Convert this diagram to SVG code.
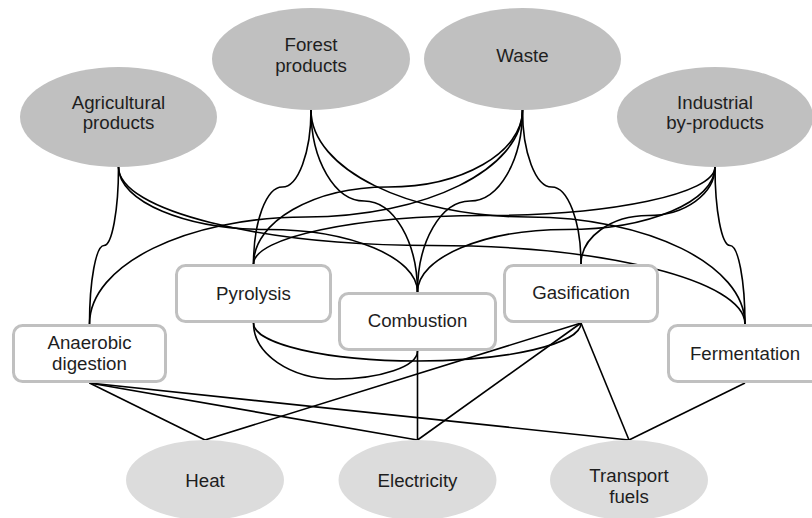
<svg xmlns="http://www.w3.org/2000/svg" width="812" height="518" viewBox="0 0 812 518">
<style>
.src{fill:#c0c0c0}
.out{fill:#dcdcdc}
.box{fill:#ffffff;stroke:#c0c0c0;stroke-width:3}
.t{font-family:"Liberation Sans",Arial,sans-serif;font-size:18.7px;fill:#1e1e1e;text-anchor:middle}
#connectors path,#connectors line{fill:none;stroke:#000;stroke-width:1.6}
</style>
<rect width="812" height="518" fill="#fff"/>
<g id="connectors">
<path d="M118.5,167 C118.5,210.3 112,245.5 104,245.5 C96,245.5 89.5,280.7 89.5,324"/>
<path d="M118.5,167 C118.5,201.5 185.5,229.5 268,229.5 C350.5,229.5 417.5,257.5 417.5,292"/>
<path d="M118.5,167 C118.5,210.3 258.9,245.5 431.75,245.5 C604.7,245.5 745,280.7 745,324"/>
<path d="M311,110 C311,152.5 298.1,187 282.25,187 C266.4,187 253.5,221.5 253.5,264"/>
<path d="M311,110 C311,160.2 334.9,201 364.25,201 C393.6,201 417.5,241.8 417.5,292"/>
<path d="M311,110 C311,169 408.2,217 528,217 C647.8,217 745,265 745,324"/>
<path d="M522.5,110 C522.5,169 425.5,217 306,217 C186.5,217 89.5,265 89.5,324"/>
<path d="M522.5,110 C522.5,152.5 462.2,187 388,187 C313.8,187 253.5,221.5 253.5,264"/>
<path d="M522.5,110 C522.5,160.2 499,201 470,201 C441,201 417.5,241.8 417.5,292"/>
<path d="M522.5,110 C522.5,152.5 535.6,187 551.75,187 C567.9,187 581,221.5 581,264"/>
<path d="M715,167 C715,193.8 611.7,215.5 484.25,215.5 C356.8,215.5 253.5,237.3 253.5,264"/>
<path d="M715,167 C715,201.5 648.4,229.5 566.25,229.5 C484.1,229.5 417.5,257.5 417.5,292"/>
<path d="M715,167 C715,193.8 685,215.5 648,215.5 C611,215.5 581,237.3 581,264"/>
<path d="M715,167 C715,210.3 721.7,245.5 730,245.5 C738.3,245.5 745,280.7 745,324"/>
<path d="M253.5,323 C253.5,353.9 290.2,379 335.5,379 C380.8,379 417.5,366.5 417.5,351"/>
<path d="M253.5,323 C253.5,344 326.7,361 417.25,361 C507.8,361 581,344 581,323"/>
<line x1="89.5" y1="383" x2="205" y2="440"/>
<line x1="89.5" y1="383" x2="417.5" y2="440"/>
<line x1="89.5" y1="383" x2="629" y2="440"/>
<line x1="417.5" y1="351" x2="417.5" y2="440"/>
<line x1="581" y1="323" x2="205" y2="440"/>
<line x1="581" y1="323" x2="417.5" y2="440"/>
<line x1="581" y1="323" x2="629" y2="440"/>
<line x1="745" y1="383" x2="629" y2="440"/>
</g>
<g id="agricultural">
<ellipse class="src" cx="118.5" cy="117" rx="98.5" ry="50"/>
<text class="t" x="118.5" y="108.5">Agricultural</text>
<text class="t" x="118.5" y="129">products</text>
</g>
<g id="forest">
<ellipse class="src" cx="311" cy="59" rx="99" ry="51"/>
<text class="t" x="311" y="50.5">Forest</text>
<text class="t" x="311" y="71.5">products</text>
</g>
<g id="waste">
<ellipse class="src" cx="522.5" cy="59" rx="98.5" ry="51"/>
<text class="t" x="522.5" y="61.5">Waste</text>
</g>
<g id="industrial">
<ellipse class="src" cx="715" cy="117" rx="98" ry="50"/>
<text class="t" x="715" y="108.5">Industrial</text>
<text class="t" x="715" y="129">by-products</text>
</g>
<g id="anaerobic">
<rect class="box" x="13.5" y="325.5" width="152" height="56" rx="9"/>
<text class="t" x="89.5" y="348.5">Anaerobic</text>
<text class="t" x="89.5" y="369.5">digestion</text>
</g>
<g id="pyrolysis">
<rect class="box" x="176.5" y="265.5" width="154" height="56" rx="9"/>
<text class="t" x="253.5" y="299.5">Pyrolysis</text>
</g>
<g id="combustion">
<rect class="box" x="339.5" y="293.5" width="156" height="56" rx="9"/>
<text class="t" x="417.5" y="327">Combustion</text>
</g>
<g id="gasification">
<rect class="box" x="504.5" y="265.5" width="153" height="56" rx="9"/>
<text class="t" x="581" y="299">Gasification</text>
</g>
<g id="fermentation">
<rect class="box" x="668.5" y="325.5" width="153" height="56" rx="9"/>
<text class="t" x="745" y="360">Fermentation</text>
</g>
<g id="heat">
<ellipse class="out" cx="205" cy="480" rx="79" ry="40"/>
<text class="t" x="205" y="486.5">Heat</text>
</g>
<g id="electricity">
<ellipse class="out" cx="417.5" cy="480" rx="79" ry="40"/>
<text class="t" x="417.5" y="486.5">Electricity</text>
</g>
<g id="transport">
<ellipse class="out" cx="629" cy="480" rx="79" ry="40"/>
<text class="t" x="629" y="481.5">Transport</text>
<text class="t" x="629" y="503">fuels</text>
</g>
</svg>
